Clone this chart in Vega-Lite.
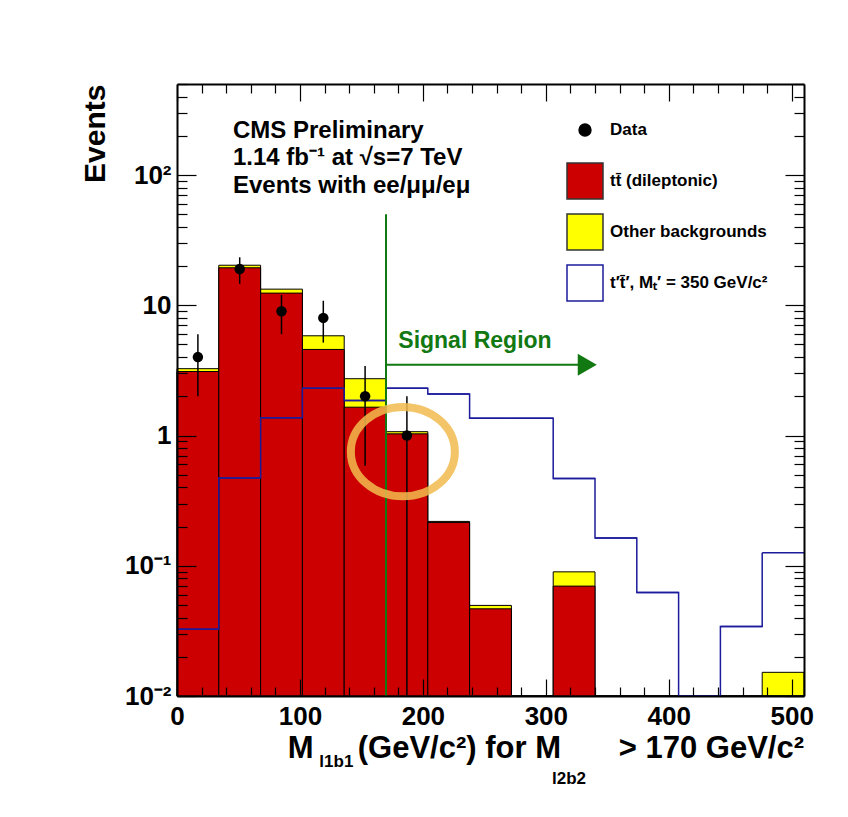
{
  "$schema": "https://vega.github.io/schema/vega-lite/v6.json",
  "width": 627,
  "height": 612,
  "autosize": {"type": "none"},
  "padding": {"left": 177, "top": 84, "right": 44, "bottom": 121},
  "background": "#ffffff",
  "config": {"view": {"stroke": null}, "font": "Liberation Sans", "axis": {"grid": false}},
  "datasets": {
    "bins": [
      {"lo": 0, "hi": 34, "tt": 3.1, "total": 3.26, "sig": 0.0325},
      {"lo": 34, "hi": 68, "tt": 19.4, "total": 20.3, "sig": 0.472},
      {"lo": 68, "hi": 102, "tt": 12.4, "total": 13.3, "sig": 1.37},
      {"lo": 102, "hi": 136, "tt": 4.58, "total": 5.83, "sig": 2.31},
      {"lo": 136, "hi": 170, "tt": 1.65, "total": 2.73, "sig": 1.86},
      {"lo": 170, "hi": 204, "tt": 1.03, "total": 1.07, "sig": 2.31},
      {"lo": 204, "hi": 238, "tt": 0.215, "total": 0.219, "sig": 2.08},
      {"lo": 238, "hi": 272, "tt": 0.0467, "total": 0.0496, "sig": 1.36},
      {"lo": 272, "hi": 306, "tt": 0, "total": 0, "sig": 1.36},
      {"lo": 306, "hi": 340, "tt": 0.0698, "total": 0.0898, "sig": 0.467},
      {"lo": 340, "hi": 374, "tt": 0, "total": 0, "sig": 0.163},
      {"lo": 374, "hi": 408, "tt": 0, "total": 0, "sig": 0.0624},
      {"lo": 408, "hi": 442, "tt": 0, "total": 0, "sig": 0},
      {"lo": 442, "hi": 476, "tt": 0, "total": 0, "sig": 0.0342},
      {"lo": 476, "hi": 510, "tt": 0, "total": 0.0152, "sig": 0.1256}
    ],
    "obs": [
      {"mid": 17, "n": 4, "err_lo": 2.0, "err_hi": 6.0},
      {"mid": 51, "n": 19, "err_lo": 14.64, "err_hi": 23.36},
      {"mid": 85, "n": 9, "err_lo": 6.0, "err_hi": 12.0},
      {"mid": 119, "n": 8, "err_lo": 5.17, "err_hi": 10.83},
      {"mid": 153, "n": 2, "err_lo": 0.586, "err_hi": 3.414},
      {"mid": 187, "n": 1, "err_lo": 0, "err_hi": 2.0}
    ],
    "entries": [
      {"entry": "Data"},
      {"entry": "tt̄ (dileptonic)"},
      {"entry": "Other backgrounds"},
      {"entry": "t′t̄′, Mₜ′ = 350 GeV/c²"}
    ],
    "one": [{}]
  },
  "resolve": {"axis": {"x": "independent", "y": "independent"}},
  "layer": [
    {
      "data": {"name": "bins"},
      "mark": {"type": "rect", "fill": "#ffff00", "stroke": "#000000", "strokeWidth": 1},
      "encoding": {
        "x": {"field": "lo", "type": "quantitative", "scale": {"domain": [0, 510], "nice": false, "zero": false},
          "axis": {"orient": "bottom", "values": [0, 100, 200, 300, 400, 500], "format": "d", "tickSize": -17, "tickWidth": 1.2, "tickColor": "#000000", "domain": true, "domainWidth": 2, "domainColor": "#000000", "labelFont": "Liberation Sans", "labelFontSize": 26, "labelFontWeight": "bold", "labelColor": "#000000", "labelPadding": 24, "labelFlush": false, "labelOverlap": false, "labelBound": false, "grid": false, "title": null, "zindex": 1}},
        "x2": {"field": "hi"},
        "y": {"field": "total", "type": "quantitative", "scale": {"type": "log", "domain": [0.01, 500], "nice": false, "clamp": true},
          "axis": {"orient": "left", "values": [0.01, 0.1, 1, 10, 100], "labelExpr": "datum.value < 0.05 ? '10⁻²' : datum.value < 0.5 ? '10⁻¹' : datum.value < 5 ? '1' : datum.value < 50 ? '10' : '10²'", "tickSize": -19, "tickWidth": 1.2, "tickColor": "#000000", "domain": true, "domainWidth": 2, "domainColor": "#000000", "labelFont": "Liberation Sans", "labelFontSize": 26, "labelFontWeight": "bold", "labelColor": "#000000", "labelPadding": 25, "labelFlush": false, "labelOverlap": false, "labelBound": false, "grid": false, "title": "Events", "titleFont": "Liberation Sans", "titleFontSize": 30, "titleFontWeight": "bold", "titleColor": "#000000", "titleAnchor": "end", "titlePadding": 14, "zindex": 1}},
        "y2": {"datum": 0.01}
      }
    },
    {
      "data": {"name": "bins"},
      "mark": {"type": "rect", "fill": "#cc0000", "stroke": "#000000", "strokeWidth": 1},
      "encoding": {
        "x": {"field": "lo", "type": "quantitative",
          "axis": {"orient": "bottom", "values": [20, 40, 60, 80, 120, 140, 160, 180, 220, 240, 260, 280, 320, 340, 360, 380, 420, 440, 460, 480], "tickSize": -9, "tickWidth": 1.2, "tickColor": "#000000", "domain": false, "labels": false, "grid": false, "title": null, "zindex": 1}},
        "x2": {"field": "hi"},
        "y": {"field": "tt", "type": "quantitative",
          "axis": {"orient": "left", "values": [0.02, 0.03, 0.04, 0.05, 0.06, 0.07, 0.08, 0.09, 0.2, 0.3, 0.4, 0.5, 0.6, 0.7, 0.8, 0.9, 2, 3, 4, 5, 6, 7, 8, 9, 20, 30, 40, 50, 60, 70, 80, 90, 200, 300, 400, 500], "tickSize": -10, "tickWidth": 1.2, "tickColor": "#000000", "domain": false, "labels": false, "grid": false, "title": null, "zindex": 1}},
        "y2": {"datum": 0.01}
      }
    },
    {
      "data": {"name": "bins"},
      "mark": {"type": "line", "interpolate": "step-after", "color": "#1b1b9b", "strokeWidth": 1.5, "invalid": "show"},
      "encoding": {
        "x": {"field": "lo", "type": "quantitative",
          "axis": {"orient": "top", "values": [20, 40, 60, 80, 120, 140, 160, 180, 220, 240, 260, 280, 320, 340, 360, 380, 420, 440, 460, 480], "tickSize": -9, "tickWidth": 1.2, "tickColor": "#000000", "domain": false, "labels": false, "grid": false, "title": null, "zindex": 1}},
        "y": {"field": "sig", "type": "quantitative",
          "axis": {"orient": "right", "values": [0.02, 0.03, 0.04, 0.05, 0.06, 0.07, 0.08, 0.09, 0.2, 0.3, 0.4, 0.5, 0.6, 0.7, 0.8, 0.9, 2, 3, 4, 5, 6, 7, 8, 9, 20, 30, 40, 50, 60, 70, 80, 90, 200, 300, 400, 500], "tickSize": -10, "tickWidth": 1.2, "tickColor": "#000000", "domain": false, "labels": false, "grid": false, "title": null, "zindex": 1}}
      }
    },
    {
      "data": {"name": "bins"},
      "mark": {"type": "rule", "color": "#1b1b9b", "strokeWidth": 1.5},
      "encoding": {
        "x": {"field": "lo", "type": "quantitative",
          "axis": {"orient": "top", "values": [0, 100, 200, 300, 400, 500], "tickSize": -17, "tickWidth": 1.2, "tickColor": "#000000", "domain": true, "domainWidth": 2, "domainColor": "#000000", "labels": false, "grid": false, "title": null, "zindex": 1}},
        "x2": {"field": "hi"},
        "y": {"field": "sig", "type": "quantitative",
          "axis": {"orient": "right", "values": [0.01, 0.1, 1, 10, 100], "tickSize": -19, "tickWidth": 1.2, "tickColor": "#000000", "domain": true, "domainWidth": 2, "domainColor": "#000000", "labels": false, "grid": false, "title": null, "zindex": 1}}
      }
    },
    {
      "data": {"name": "one"},
      "mark": {"type": "rule", "color": "#127812", "strokeWidth": 2},
      "encoding": {
        "x": {"datum": 170, "type": "quantitative", "axis": null},
        "y": {"datum": 0.01, "type": "quantitative", "axis": null},
        "y2": {"datum": 50}
      }
    },
    {
      "data": {"name": "one"},
      "mark": {"type": "rule", "color": "#127812", "strokeWidth": 2},
      "encoding": {
        "x": {"datum": 170, "type": "quantitative", "axis": null},
        "x2": {"datum": 327},
        "y": {"datum": 3.5, "type": "quantitative", "axis": null}
      }
    },
    {
      "data": {"name": "one"},
      "mark": {"type": "point", "shape": "triangle-right", "filled": true, "color": "#127812", "size": 484, "opacity": 1},
      "encoding": {
        "x": {"datum": 333.7, "type": "quantitative", "axis": null},
        "y": {"datum": 3.5, "type": "quantitative", "axis": null}
      }
    },
    {
      "data": {"name": "one"},
      "mark": {"type": "text", "text": "Signal Region", "align": "left", "baseline": "alphabetic", "font": "Liberation Sans", "fontSize": 23, "fontWeight": "bold", "color": "#127812"},
      "encoding": {
        "x": {"datum": 180, "type": "quantitative", "axis": null},
        "y": {"datum": 4.66, "type": "quantitative", "axis": null}
      }
    },
    {
      "data": {"name": "obs"},
      "mark": {"type": "rule", "color": "#000000", "strokeWidth": 1.5, "invalid": "show"},
      "encoding": {
        "x": {"field": "mid", "type": "quantitative", "axis": null},
        "y": {"field": "err_lo", "type": "quantitative", "axis": null},
        "y2": {"field": "err_hi"}
      }
    },
    {
      "data": {"name": "obs"},
      "mark": {"type": "point", "shape": "circle", "filled": true, "color": "#000000", "size": 110, "opacity": 1},
      "encoding": {
        "x": {"field": "mid", "type": "quantitative", "axis": null},
        "y": {"field": "n", "type": "quantitative", "axis": null}
      }
    },
    {
      "data": {"name": "one"},
      "mark": {"type": "text", "text": "CMS Preliminary", "align": "left", "baseline": "alphabetic", "font": "Liberation Sans", "fontSize": 24, "fontWeight": "bold", "color": "#000000"},
      "encoding": {
        "x": {"datum": 45.5, "type": "quantitative", "axis": null},
        "y": {"datum": 191.4, "type": "quantitative", "axis": null}
      }
    },
    {
      "data": {"name": "one"},
      "mark": {"type": "text", "text": "1.14 fb⁻¹ at  √s=7 TeV", "align": "left", "baseline": "alphabetic", "font": "Liberation Sans", "fontSize": 24, "fontWeight": "bold", "color": "#000000"},
      "encoding": {
        "x": {"datum": 45.5, "type": "quantitative", "axis": null},
        "y": {"datum": 118.4, "type": "quantitative", "axis": null}
      }
    },
    {
      "data": {"name": "one"},
      "mark": {"type": "text", "text": "Events with ee/μμ/eμ", "align": "left", "baseline": "alphabetic", "font": "Liberation Sans", "fontSize": 24, "fontWeight": "bold", "color": "#000000"},
      "encoding": {
        "x": {"datum": 45.5, "type": "quantitative", "axis": null},
        "y": {"datum": 72.8, "type": "quantitative", "axis": null}
      }
    },
    {
      "data": {"name": "one"},
      "mark": {"type": "text", "text": "M", "align": "left", "baseline": "alphabetic", "dy": 62, "font": "Liberation Sans", "fontSize": 31, "fontWeight": "bold", "color": "#000000"},
      "encoding": {
        "x": {"datum": 90, "type": "quantitative", "axis": null},
        "y": {"datum": 0.01, "type": "quantitative", "axis": null}
      }
    },
    {
      "data": {"name": "one"},
      "mark": {"type": "text", "text": "l1b1", "align": "left", "baseline": "alphabetic", "dy": 71, "font": "Liberation Sans", "fontSize": 17, "fontWeight": "bold", "color": "#000000"},
      "encoding": {
        "x": {"datum": 115.8, "type": "quantitative", "axis": null},
        "y": {"datum": 0.01, "type": "quantitative", "axis": null}
      }
    },
    {
      "data": {"name": "one"},
      "mark": {"type": "text", "text": "(GeV/c²) for M", "align": "left", "baseline": "alphabetic", "dy": 62, "font": "Liberation Sans", "fontSize": 31, "fontWeight": "bold", "color": "#000000"},
      "encoding": {
        "x": {"datum": 147, "type": "quantitative", "axis": null},
        "y": {"datum": 0.01, "type": "quantitative", "axis": null}
      }
    },
    {
      "data": {"name": "one"},
      "mark": {"type": "text", "text": "l2b2", "align": "left", "baseline": "alphabetic", "dy": 88, "font": "Liberation Sans", "fontSize": 17, "fontWeight": "bold", "color": "#000000"},
      "encoding": {
        "x": {"datum": 305, "type": "quantitative", "axis": null},
        "y": {"datum": 0.01, "type": "quantitative", "axis": null}
      }
    },
    {
      "data": {"name": "one"},
      "mark": {"type": "text", "text": "> 170 GeV/c²", "align": "right", "baseline": "alphabetic", "dy": 62, "font": "Liberation Sans", "fontSize": 31, "fontWeight": "bold", "color": "#000000"},
      "encoding": {
        "x": {"datum": 510, "type": "quantitative", "axis": null},
        "y": {"datum": 0.01, "type": "quantitative", "axis": null}
      }
    },
    {
      "data": {"name": "entries"},
      "transform": [{"filter": "datum.entry == 'none'"}],
      "mark": {"type": "point", "filled": true, "strokeWidth": 1.5, "size": 1296, "opacity": 1},
      "encoding": {
        "fill": {"field": "entry", "type": "nominal",
          "scale": {"domain": ["Data", "tt̄ (dileptonic)", "Other backgrounds", "t′t̄′, Mₜ′ = 350 GeV/c²"], "range": ["#000000", "#cc0000", "#ffff00", "#ffffff"]},
          "legend": {"title": null, "orient": "none", "legendX": 389, "legendY": 27, "padding": 0, "gridAlign": "all", "labelFont": "Liberation Sans", "labelFontSize": 17, "labelFontWeight": "bold", "labelColor": "#000000", "labelOffset": 6, "labelLimit": 400, "rowPadding": 9, "symbolSize": 1296, "symbolStrokeWidth": 1.5, "symbolOpacity": 1}},
        "stroke": {"field": "entry", "type": "nominal",
          "scale": {"domain": ["Data", "tt̄ (dileptonic)", "Other backgrounds", "t′t̄′, Mₜ′ = 350 GeV/c²"], "range": ["#000000", "#333333", "#333333", "#1b1b9b"]}},
        "shape": {"field": "entry", "type": "nominal",
          "scale": {"domain": ["Data", "tt̄ (dileptonic)", "Other backgrounds", "t′t̄′, Mₜ′ = 350 GeV/c²"], "range": ["M-0.33,0A0.33,0.33,0,1,1,0.33,0A0.33,0.33,0,1,1,-0.33,0Z", "square", "square", "square"]}}
      }
    },
    {
      "data": {"name": "one"},
      "mark": {"type": "point", "shape": "M-1,0A1,0.86,0,1,1,1,0A1,0.86,0,1,1,-1,0Z", "filled": false, "stroke": "#f2bc4e", "strokeWidth": 8, "size": 10816, "opacity": 0.85},
      "encoding": {
        "x": {"datum": 183.7, "type": "quantitative", "axis": null},
        "y": {"datum": 0.752, "type": "quantitative", "axis": null}
      }
    }
  ]
}
